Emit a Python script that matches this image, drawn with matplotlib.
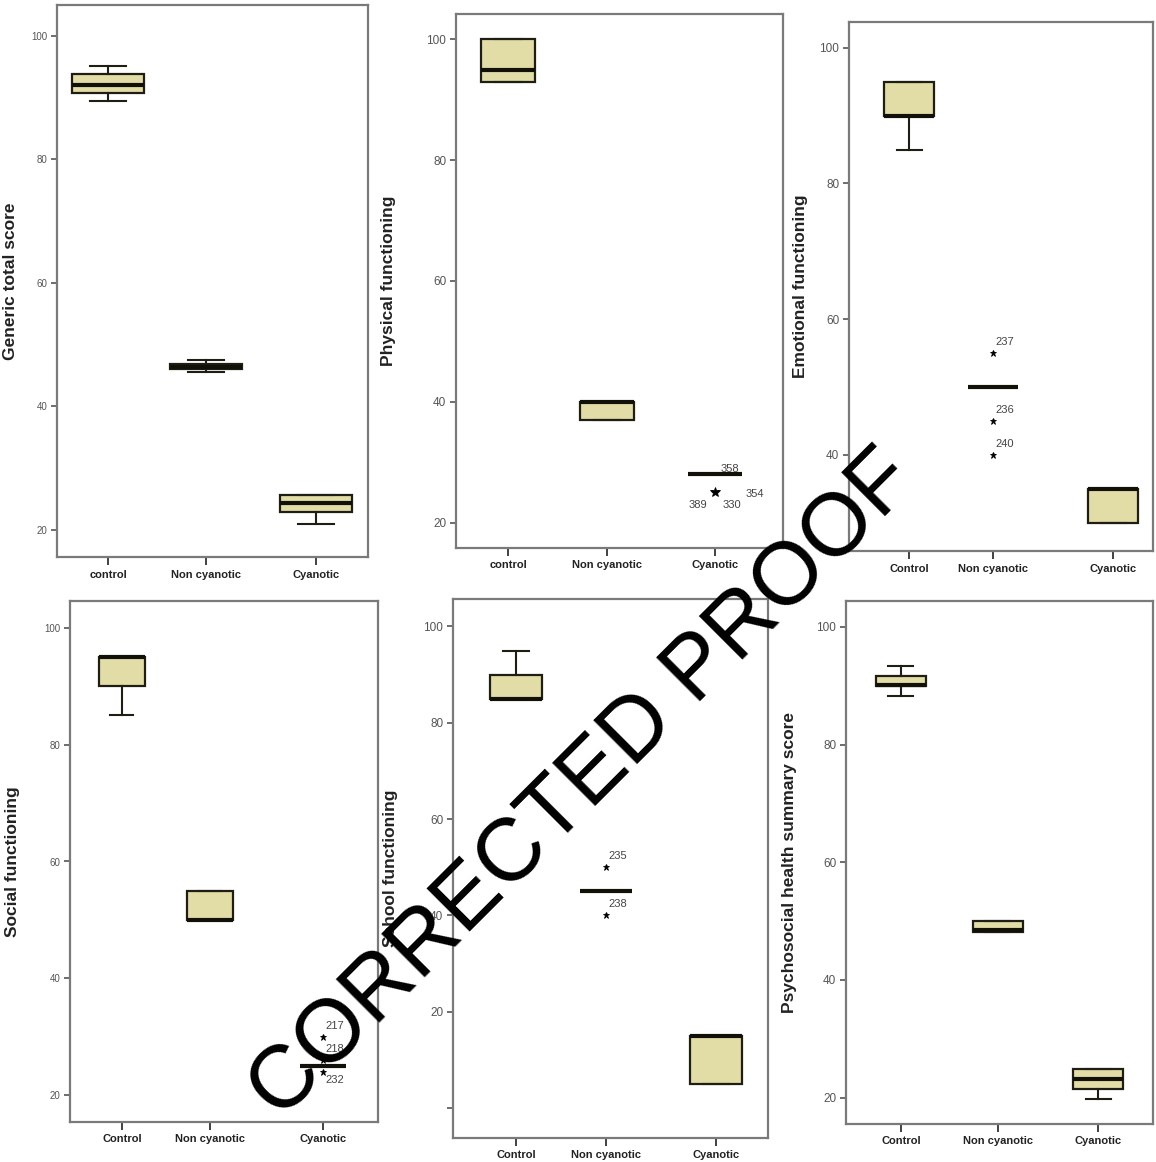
import matplotlib
matplotlib.use("Agg")
import matplotlib.pyplot as plt

plt.rcParams['font.family'] = ['Liberation Sans', 'DejaVu Sans']

# ---------------- data ----------------
groups_lower = ['control', 'Non cyanotic', 'Cyanotic']
groups_upper = ['Control', 'Non cyanotic', 'Cyanotic']

# Panel 1: Generic total score
gen_lo  = [89.5, 45.5, 21.0]
gen_q1  = [90.8, 46.1, 22.9]
gen_med = [92.1, 46.4, 24.4]
gen_q3  = [93.9, 46.8, 25.7]
gen_hi  = [95.1, 47.5, 25.7]
gen_out = []

# Panel 2: Physical functioning
phy_lo  = [93.0, 37.0, 28.0]
phy_q1  = [93.0, 37.0, 28.0]
phy_med = [95.0, 40.0, 28.0]
phy_q3  = [100.0, 40.0, 28.0]
phy_hi  = [100.0, 40.0, 28.0]
phy_out = [(2, 25.0, '')]
phy_out_labels = ['358', '389', '330', '354']

# Panel 3: Emotional functioning
emo_lo  = [85.0, 50.0, 30.0]
emo_q1  = [90.0, 50.0, 30.0]
emo_med = [90.0, 50.0, 35.0]
emo_q3  = [95.0, 50.0, 35.0]
emo_hi  = [95.0, 50.0, 35.0]
emo_out = [(1, 55.0, '237'), (1, 45.0, '236'), (1, 40.0, '240')]

# Panel 4: Social functioning
soc_lo  = [85.0, 50.0, 25.0]
soc_q1  = [90.0, 50.0, 25.0]
soc_med = [95.0, 50.0, 25.0]
soc_q3  = [95.0, 55.0, 25.0]
soc_hi  = [95.0, 55.0, 25.0]
soc_out = [(2, 30.0, '217'), (2, 26.0, '218'), (2, 24.0, '232')]

# Panel 5: School functioning
sch_lo  = [85.0, 45.0, 5.0]
sch_q1  = [85.0, 45.0, 5.0]
sch_med = [85.0, 45.0, 15.0]
sch_q3  = [90.0, 45.0, 15.0]
sch_hi  = [95.0, 45.0, 15.0]
sch_out = [(1, 50.0, '235'), (1, 40.0, '238')]

# Panel 6: Psychosocial health summary score
psy_lo  = [88.3, 48.2, 19.8]
psy_q1  = [90.0, 48.2, 21.4]
psy_med = [90.2, 48.5, 23.2]
psy_q3  = [91.7, 50.0, 24.8]
psy_hi  = [93.3, 50.0, 24.8]
psy_out = []

yticks_main = [20, 40, 60, 80, 100]
yticks_school = [0, 20, 40, 60, 80, 100]
yticklabels_school = ['', '20', '40', '60', '80', '100']

# ---------------- layout ----------------
W, H = 1156, 1162
fig = plt.figure(figsize=(W / 100, H / 100), dpi=100)
fig.patch.set_facecolor('white')

BOX_FILL = '#E2DCA6'
EDGE = '#1e1e14'
FRAME = '#7a7a7a'


def make_axes(L, T, R, B):
    return fig.add_axes([L / W, 1 - B / H, (R - L) / W, (B - T) / H])


panels = [
    dict(rect=(57, 5, 368, 557), centers=[108, 206, 316], width=72, ylim=(15.6, 105.0),
         ylabel='Generic total score', stats=(gen_lo, gen_q1, gen_med, gen_q3, gen_hi),
         out=gen_out, groups=groups_lower, labx=18, tfs=7),
    dict(rect=(456, 14, 783, 548), centers=[508, 607, 715], width=54, ylim=(15.8, 104.2),
         ylabel='Physical functioning', stats=(phy_lo, phy_q1, phy_med, phy_q3, phy_hi),
         out=phy_out, groups=groups_lower, labx=396, tfs=8.5),
    dict(rect=(849, 22, 1153, 551), centers=[909, 993, 1113], width=50, ylim=(25.8, 103.8),
         ylabel='Emotional functioning', stats=(emo_lo, emo_q1, emo_med, emo_q3, emo_hi),
         out=emo_out, groups=groups_upper, labx=808, tfs=8.5),
    dict(rect=(70, 601, 378, 1122), centers=[122, 210, 323], width=46, ylim=(15.4, 104.6),
         ylabel='Social functioning', stats=(soc_lo, soc_q1, soc_med, soc_q3, soc_hi),
         out=soc_out, groups=groups_upper, labx=20, tfs=7),
    dict(rect=(453, 599, 768, 1138), centers=[516, 606, 716], width=52, ylim=(-6.2, 105.7),
         ylabel='School functioning', stats=(sch_lo, sch_q1, sch_med, sch_q3, sch_hi),
         out=sch_out, groups=groups_upper, labx=398, tfs=8.5, school=True),
    dict(rect=(846, 601, 1153, 1124), centers=[901, 998, 1098], width=50, ylim=(15.5, 104.4),
         ylabel='Psychosocial health summary score', stats=(psy_lo, psy_q1, psy_med, psy_q3, psy_hi),
         out=psy_out, groups=groups_upper, labx=797, tfs=8.5),
]

for i, p in enumerate(panels):
    L, T, R, B = p['rect']
    ax = make_axes(L, T, R, B)
    lo, q1, med, q3, hi = p['stats']
    bstats = []
    for g in range(3):
        bstats.append(dict(whislo=lo[g], q1=q1[g], med=med[g], q3=q3[g], whishi=hi[g],
                           fliers=[], label=p['groups'][g]))
    ax.bxp(bstats, positions=p['centers'], widths=p['width'], patch_artist=True,
           showfliers=False, manage_ticks=False,
           boxprops=dict(facecolor=BOX_FILL, edgecolor=EDGE, linewidth=1.6),
           medianprops=dict(color='#111108', linewidth=3.0, solid_capstyle='butt'),
           whiskerprops=dict(color=EDGE, linewidth=1.5),
           capprops=dict(color=EDGE, linewidth=1.5))

    # outliers
    for k, (g, v, lab) in enumerate(p['out']):
        x = p['centers'][g]
        ms = 7 if i == 1 else 4.5
        ax.plot([x], [v], marker='*', color='black', markersize=ms, linestyle='none',
                markeredgewidth=0.6)
        if lab:
            dy = -6 if (i == 3 and k == 2) else 8
            ax.annotate(lab, (x, v), xytext=(1.5, dy), textcoords='offset points',
                        ha='left', va='center', fontsize=8, color='#444444')
    if i == 1:
        x = p['centers'][2]
        offs = [((11, 4), p['stats'][2][2]), ((-12, -9), 25.0), ((12, -9), 25.0), ((29, -1), 25.0)]
        for lab, ((dx, dy), yv) in zip(phy_out_labels, offs):
            ax.annotate(lab, (x, yv), xytext=(dx, dy), textcoords='offset points',
                        ha='center', va='center', fontsize=8, color='#444444')

    # axes styling
    for s in ax.spines.values():
        s.set_color(FRAME)
        s.set_linewidth(1.6)
    ax.set_xticks(p['centers'])
    ax.set_xticklabels(p['groups'], fontsize=8, fontweight='bold', color='#222222')
    if p.get('school'):
        ax.set_yticks(yticks_school)
        ax.set_yticklabels(yticklabels_school)
    else:
        ax.set_yticks(yticks_main)
    ax.tick_params(axis='y', labelsize=p['tfs'], labelcolor='#555555', color='#555555',
                   length=4, width=1.2, pad=3, direction='out')
    ax.tick_params(axis='x', color='#333333', length=6, width=1.3, pad=3, direction='out')
    ax.set_ylabel(p['ylabel'], fontsize=12.5, fontweight='bold', color='#222222')
    ax.yaxis.set_label_coords((p['labx'] - L) / (R - L), 0.5)
    ax.set_xlim(L, R)
    ax.set_ylim(*p['ylim'])

# watermark
fig.text(583 / W, 1 - 786 / H, 'CORRECTED PROOF', rotation=45, rotation_mode='anchor',
         ha='center', va='center', fontsize=64, color='black', zorder=10,
         family=['Liberation Sans', 'DejaVu Sans'])

fig.savefig('out.png', dpi=100, facecolor='white')
